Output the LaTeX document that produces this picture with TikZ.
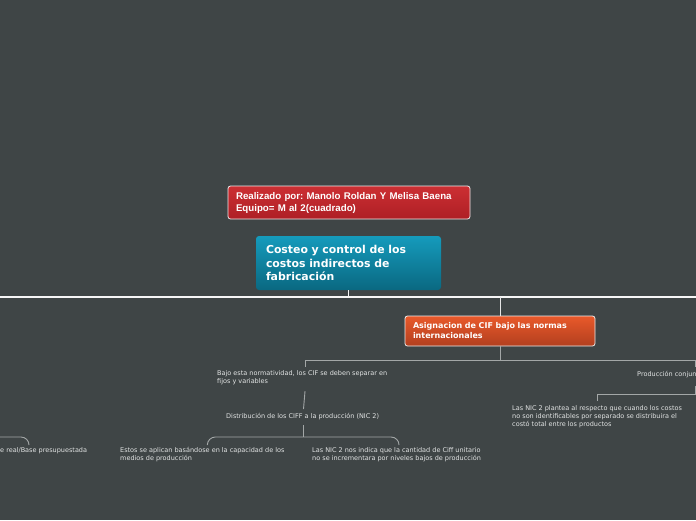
\documentclass[tikz,border=0pt]{standalone}
\usepackage{fontspec}
\setmainfont{DejaVu Sans}
\newfontfamily\arialfont{Liberation Sans}
\usetikzlibrary{calc}
\frenchspacing
\definecolor{bg}{HTML}{3F4546}
\definecolor{lineg}{HTML}{A3A7A7}
\definecolor{txt}{HTML}{E2E4E4}
\definecolor{redtop}{HTML}{CC2F33}
\definecolor{redbot}{HTML}{AE1F25}
\definecolor{bluetop}{HTML}{159BBC}
\definecolor{bluebot}{HTML}{0A6881}
\definecolor{ortop}{HTML}{E9592A}
\definecolor{orbot}{HTML}{B23F1F}
\begin{document}
\begin{tikzpicture}[x=1pt,y=-1pt,
  redbox/.style={rounded corners=2.5pt, draw=white!85!gray, line width=0.8pt,
    top color=redtop, bottom color=redbot, text=white, align=left,
    inner xsep=8pt, inner ysep=0pt, text width=226pt, minimum width=242pt, minimum height=33pt,
    font=\arialfont\bfseries\fontsize{9.7}{12}\selectfont},
  bluebox/.style={rounded corners=3pt, top color=bluetop, bottom color=bluebot,
    text=white, align=left, inner xsep=10pt, inner ysep=0pt, text width=165pt,
    minimum width=185pt, minimum height=54pt,
    font=\bfseries\fontsize{10.9}{13.5}\selectfont},
  orbox/.style={rounded corners=2.5pt, draw=white!85!gray, line width=0.8pt,
    top color=ortop, bottom color=orbot, text=white, align=left,
    inner xsep=8pt, inner ysep=0pt, text width=174pt, minimum width=190pt, minimum height=30pt,
    font=\bfseries\fontsize{8}{10}\selectfont},
  leaf/.style={inner sep=0pt, anchor=north west, align=left, text=txt,
    font=\fontsize{6.5}{8}\selectfont},
  conn/.style={draw=lineg, line width=0.9pt},
  mainln/.style={draw=white!93!gray, line width=1.7pt}]
\fill[bg] (0,0) rectangle (696,520);
\useasboundingbox (0,0) rectangle (696,520);
\clip (0,0) rectangle (696,520);

% topics
\node[redbox] (credit) at (349,202.5) {Realizado por: Manolo Roldan Y Melisa Baena\\Equipo= M al 2(cuadrado)};
\node[bluebox] (root) at (348.5,263) {Costeo y control de los\\costos indirectos de\\fabricación};
\node[orbox] (asig) at (500,331) {Asignacion de CIF bajo las normas\\internacionales};

% leaves
\node[leaf] (bajo) at (217,370.5) {Bajo esta normatividad, los CIF se deben separar en\\fijos y variables};
\node[leaf] (distrib) at (226,413.5) {Distribución de los CIFF a la producción (NIC 2)};
\node[leaf] (estos) at (120,447.5) {Estos se aplican basándose en la capacidad de los\\medios de producción};
\node[leaf] (nos) at (312,447.5) {Las NIC 2 nos indica que la cantidad de Ciff unitario\\no se incrementara por niveles bajos de producción};
\node[leaf] (ereal) at (0,447.5) {e real/Base presupuestada};
\node[leaf] (prod) at (637,371.5) {Producción conjun};
\node[leaf] (plantea) at (512,405.5) {Las NIC 2 plantea al respecto que cuando los costos\\no son identificables por separado se distribuira el\\costó total entre los productos};

% main line
\coordinate (mL) at (0,297);
\coordinate (mR) at (696,297);
\draw[mainln] (mL) -- (mR);
\draw[mainln] (root.south) -- (root.south |- mL);
\draw[conn, draw=white!80!gray] (asig.north) -- (asig.north |- mL);

% from asig
\coordinate (busL) at (305,360);
\coordinate (busR) at (695,360);
\coordinate (prodtop) at (695,367);
\draw[conn] (asig.south) -- (asig.south |- busL);
\draw[conn] (busL) -- (busR) -- (prodtop);
\draw[conn] (busL) -- ($(bajo.north -| busL)+(0,-3.5)$);

% bajo -> distrib
\coordinate (brc) at (303.5,437);
\draw[conn] ($(bajo.south -| busL)+(0,6)$) -- ($(distrib.north -| brc)+(0,-4.5)$);

% distrib -> bracket
\draw[conn] ($(distrib.south -| brc)+(0,5)$) -- (brc);
\draw[conn, rounded corners=8pt] ($(estos.north)+(5,-2.5)$) |- (brc) -| ($(nos.north)+(2.5,-2.5)$);

% left edge bracket
\draw[conn, rounded corners=8pt] (-10,437) -| ($(ereal.north west)+(29,-2.5)$);

% producción -> plantea
\coordinate (pb) at (695,386);
\draw[conn] (pb) |- ($(plantea.north)+(0,-11.5)$) -- ($(plantea.north)+(0,-4.5)$);
\end{tikzpicture}
\end{document}
